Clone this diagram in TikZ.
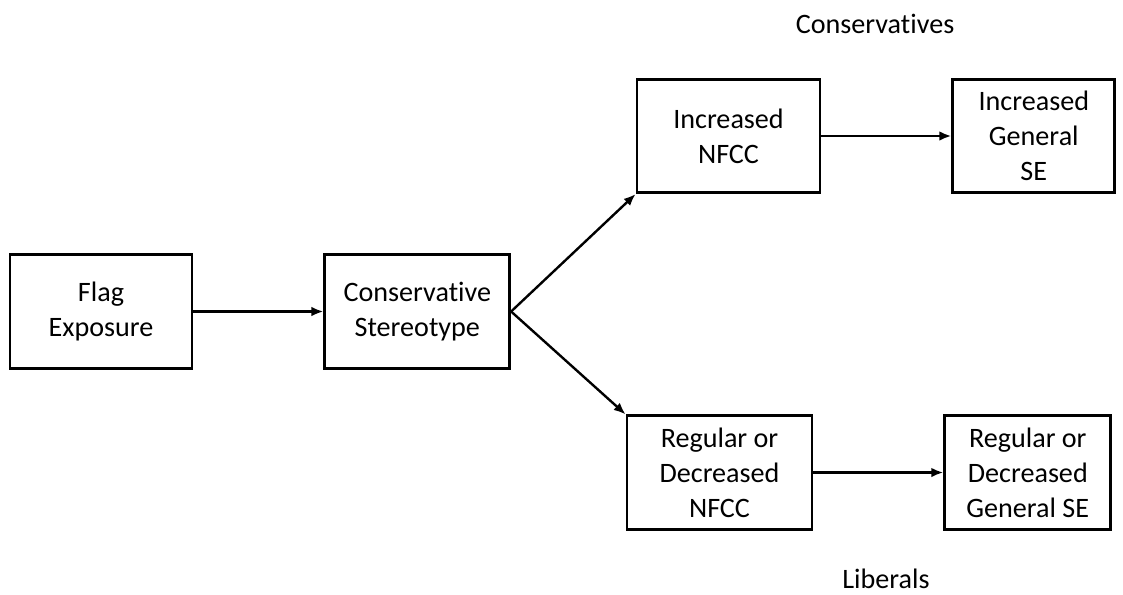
\documentclass[tikz,border=0pt]{standalone}
\usepackage{fontspec}
\setmainfont{Carlito}[Ligatures=NoCommon]
\usetikzlibrary{arrows.meta, positioning}

\begin{document}
\begin{tikzpicture}[
      x=0.025cm, y=-0.025cm,
      font=\fontsize{20}{25}\selectfont,
      node distance=3.25cm,
      box/.style={draw, line width=2pt, align=center, inner sep=2pt, minimum height=2.83cm},
      arrow/.style={-{Latex[length=3mm, width=2.4mm]}, line width=1.7pt},
      note/.style={anchor=base}
    ]
    \useasboundingbox (0,0) rectangle (1123,594);

    \node[box, minimum width=4.55cm] (flag) at (101,311.5) {Flag\\Exposure};
    \node[box, minimum width=4.62cm, right=of flag] (stereo) {Conservative\\Stereotype};

    \node[box, minimum width=4.57cm] (incnfcc) at (728.5,136) {Increased\\NFCC};
    \node[box, minimum width=4.05cm, right=of incnfcc] (incse) {Increased\\General\\SE};

    \node[box, minimum width=4.62cm] (regnfcc) at (719.5,472.5) {Regular or\\Decreased\\NFCC};
    \node[box, minimum width=4.15cm, right=of regnfcc] (regse) {Regular or\\Decreased\\General SE};

    \node[note] (cons) at (875,33) {Conservatives};
    \node[note] (lib) at (886,588) {Liberals};

    \draw[arrow] (flag) -- (stereo);
    \draw[arrow] (stereo.east) -- (incnfcc.south west);
    \draw[arrow] (stereo.east) -- (regnfcc.north west);
    \draw[arrow] (incnfcc) -- (incse);
    \draw[arrow] (regnfcc) -- (regse);

\end{tikzpicture}
\end{document}
